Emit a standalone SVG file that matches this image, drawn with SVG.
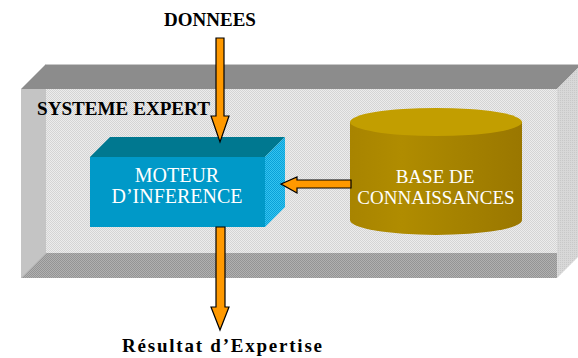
<svg xmlns="http://www.w3.org/2000/svg" width="578" height="358" viewBox="0 0 578 358">
  <style>
    .lbl { font-family: "Liberation Serif", "Times New Roman", serif; font-weight: bold; fill: #000000; }
    .node-txt { font-family: "Liberation Serif", "Times New Roman", serif; fill: #ffffff; text-anchor: middle; }
    .arrow { fill: #ff9900; stroke: #000000; stroke-width: 1.2; stroke-linejoin: miter; }
  </style>
  <defs>
    <pattern id="ditherPanel" width="2" height="2" patternUnits="userSpaceOnUse">
      <rect width="2" height="2" fill="#ececec"/>
      <rect width="1" height="1" fill="#d4d4d4"/>
      <rect x="1" y="1" width="1" height="1" fill="#d4d4d4"/>
    </pattern>
    <pattern id="ditherBottom" width="2" height="2" patternUnits="userSpaceOnUse">
      <rect width="2" height="2" fill="#b0b0b0"/>
      <rect width="1" height="1" fill="#949494"/>
      <rect x="1" y="1" width="1" height="1" fill="#949494"/>
    </pattern>
    <pattern id="ditherRight" width="2" height="2" patternUnits="userSpaceOnUse">
      <rect width="2" height="2" fill="#d8d8d8"/>
      <rect width="1" height="1" fill="#c8c8c8"/>
    </pattern>
    <pattern id="ditherCyan" width="2" height="2" patternUnits="userSpaceOnUse">
      <rect width="2" height="2" fill="#33c4f0"/>
      <rect width="1" height="1" fill="#0aa0d8"/>
      <rect x="1" y="1" width="1" height="1" fill="#0aa0d8"/>
    </pattern>
    <linearGradient id="cylBody" x1="0" y1="0" x2="1" y2="0">
      <stop offset="0" stop-color="#a88400"/>
      <stop offset="0.3" stop-color="#b08c00"/>
      <stop offset="0.6" stop-color="#a68300"/>
      <stop offset="1" stop-color="#9a7700"/>
    </linearGradient>
  </defs>

  <g id="systeme-expert">
    <polygon points="21,89 46,64 578,64 578,68 557,89" fill="#8c8c8c"/>
    <line x1="46" y1="64.5" x2="578" y2="64.5" stroke="#c8c8c8" stroke-width="1"/>
    <rect x="46" y="89" width="511" height="164" fill="url(#ditherPanel)"/>
    <polygon points="21,89 46,89 46,253 21,278" fill="#c4c4c4"/>
    <polygon points="21,278 46,253 557,253 557,278" fill="url(#ditherBottom)"/>
    <polygon points="557,89 578,68 578,257 557,278" fill="url(#ditherRight)"/>
    <text class="lbl" x="37" y="115" font-size="18.5" textLength="173" lengthAdjust="spacingAndGlyphs">SYSTEME EXPERT</text>
  </g>

  <g id="base-connaissances">
    <path d="M350,122 L350,220 A86,15 0 0 0 522,220 L522,122 Z" fill="url(#cylBody)"/>
    <ellipse cx="436" cy="122" rx="86" ry="14" fill="#c29e00"/>
    <text class="node-txt" x="435" y="183" font-size="19">BASE DE</text>
    <text class="node-txt" x="436" y="204" font-size="19">CONNAISSANCES</text>
  </g>

  <g id="moteur-inference">
    <polygon points="90,157 110,137 285,137 265,157" fill="#007890"/>
    <polygon points="265,157 285,137 285,207 265,227" fill="url(#ditherCyan)"/>
    <rect x="90" y="157" width="175" height="70" fill="#0099c8"/>
    <text class="node-txt" x="177" y="182" font-size="20">MOTEUR</text>
    <text class="node-txt" x="177" y="203" font-size="20">D’INFERENCE</text>
  </g>

  <g id="connectors">
    <polygon class="arrow" points="216,38 224,38 224,116 229,116 220,142 211,116 216,116"/>
    <polygon class="arrow" points="351,180 351,188 297,188 297,193 281,184 297,177 297,180"/>
    <polygon class="arrow" points="216,227 225,227 225,307 229,307 220,330 211,307 216,307"/>
  </g>

  <g id="labels">
    <text class="lbl" x="210" y="26" font-size="19" text-anchor="middle">DONNEES</text>
    <text class="lbl" x="222" y="352" font-size="19" text-anchor="middle" textLength="200" lengthAdjust="spacing">Résultat d’Expertise</text>
  </g>
</svg>
